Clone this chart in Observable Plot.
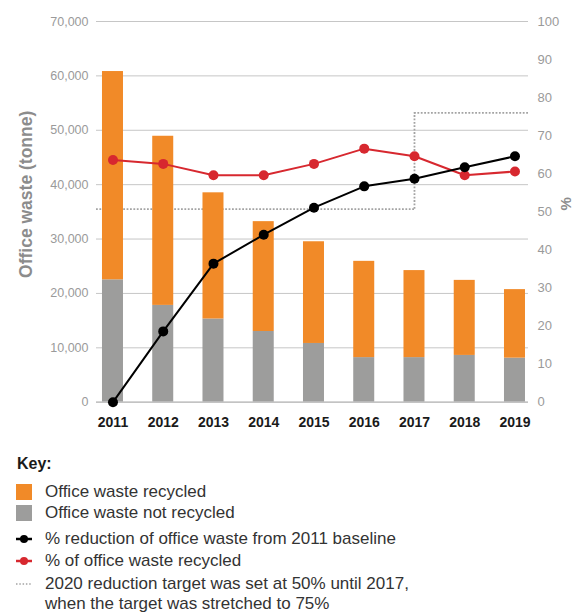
<!DOCTYPE html>
<html>
<head>
<meta charset="utf-8">
<script src="https://cdn.jsdelivr.net/npm/d3@7"></script>
<script src="https://cdn.jsdelivr.net/npm/@observablehq/plot@0.6"></script>
<style>
  html, body { margin: 0; padding: 0; background: #fff; }
  body { font-family: "Liberation Sans", Arial, sans-serif; }
  #wrap { position: relative; width: 582px; height: 612px; overflow: hidden; }
  #chart { position: absolute; left: 0; top: 0; }
  .key-title { position: absolute; left: 17px; top: 453px; font-size: 16px; font-weight: bold; color: #1a1a1a; line-height: 22px; }
  .row { position: absolute; left: 0; height: 22px; line-height: 22px; font-size: 17px; color: #333; white-space: nowrap; }
  .row .sw { position: absolute; left: 16px; top: 3px; width: 16px; height: 16px; }
  .row svg { position: absolute; left: 14px; top: 0; }
  .row .txt { position: absolute; left: 45px; top: 0; }
</style>
</head>
<body>
<div id="wrap">
  <div id="chart"></div>
  <div class="key-title">Key:</div>
  <div id="key"></div>
</div>
<script>
// ---- data ----
const years = [2011, 2012, 2013, 2014, 2015, 2016, 2017, 2018, 2019];
const wasteRecycled    = [38300, 31100, 23200, 20200, 18700, 17700, 16000, 13800, 12600]; // tonnes
const wasteNotRecycled = [22500, 17800, 15300, 13000, 10800, 8200, 8200, 8600, 8100];    // tonnes
const pctReduction = [0, 18.6, 36.4, 44.0, 51.1, 56.7, 58.7, 61.7, 64.6];
const pctRecycled  = [63.6, 62.6, 59.6, 59.6, 62.6, 66.6, 64.6, 59.6, 60.6];
const targetYears  = [2017];          // year the target was stretched
const targetBefore = [50.7];          // % target until 2017
const targetAfter  = [76];            // % target after 2017
const leftTicks  = [0, 10000, 20000, 30000, 40000, 50000, 60000, 70000];
const rightTicks = [0, 10, 20, 30, 40, 50, 60, 70, 80, 90, 100];
const yTitle = "Office waste (tonne)";
const rightTitle = "%";
const keyLabels = [
  "Office waste recycled",
  "Office waste not recycled",
  "% reduction of office waste from 2011 baseline",
  "% of office waste recycled",
  "2020 reduction target was set at 50% until 2017,",
  "when the target was stretched to 75%"
];

// ---- styles ----
const ORANGE = "#f18a28", GREY = "#9d9d9c", RED = "#d7282f", BLACK = "#000000";
const DOT_GREY = "#a3a3a3", GRID = "#c6c6c6", TICK_TEXT = "#9a9a9a";
const PCT = 700;           // 100% on the right axis = 70,000 tonnes on the left
const HALF = 0.209;        // half bar width in year units
const X_DOMAIN = [2010.672, 2019.269];

const rows = years.map((year, i) => ({
  year,
  notRecycled: wasteNotRecycled[i],
  total: wasteNotRecycled[i] + wasteRecycled[i],
  reduction: pctReduction[i] * PCT,
  recycledPct: pctRecycled[i] * PCT
}));
const tBefore = targetYears.map((x, i) => ({x1: X_DOMAIN[0], x2: x, y: targetBefore[i] * PCT}));
const tStep = targetYears.map((x, i) => ({x, y1: targetBefore[i] * PCT, y2: targetAfter[i] * PCT}));
const tAfter = targetYears.map((x, i) => ({x1: x, x2: X_DOMAIN[1], y: targetAfter[i] * PCT}));

const dotted = {stroke: DOT_GREY, strokeWidth: 1.8, strokeDasharray: "1.8,1.6"};

const chart = Plot.plot({
  width: 582,
  height: 440,
  marginTop: 21,
  marginBottom: 38.3,
  marginLeft: 96,
  marginRight: 54,
  style: {fontFamily: "'Liberation Sans', Arial, sans-serif", fontSize: "13px", background: "#fff", overflow: "visible"},
  x: {type: "linear", domain: X_DOMAIN},
  y: {domain: [0, 70000]},
  marks: [
    Plot.gridY(leftTicks, {stroke: GRID, strokeOpacity: 1, strokeWidth: 1}),
    Plot.ruleY(tBefore, {y: "y", x1: "x1", x2: "x2", ...dotted}),
    Plot.ruleX(tStep, {x: "x", y1: "y1", y2: "y2", ...dotted}),
    Plot.ruleY(tAfter, {y: "y", x1: "x1", x2: "x2", ...dotted}),
    Plot.rectY(rows, {x1: d => d.year - HALF, x2: d => d.year + HALF, y1: 0, y2: "notRecycled", fill: GREY}),
    Plot.rectY(rows, {x1: d => d.year - HALF, x2: d => d.year + HALF, y1: "notRecycled", y2: "total", fill: ORANGE}),
    Plot.ruleY([0], {stroke: "#bdbdbd", strokeWidth: 1.2}),
    Plot.line(rows, {x: "year", y: "recycledPct", stroke: RED, strokeWidth: 2}),
    Plot.dot(rows, {x: "year", y: "recycledPct", fill: RED, r: 5}),
    Plot.line(rows, {x: "year", y: "reduction", stroke: BLACK, strokeWidth: 2}),
    Plot.dot(rows, {x: "year", y: "reduction", fill: BLACK, r: 5}),
    Plot.axisY(leftTicks, {anchor: "left", tickSize: 0, tickPadding: 8, tickFormat: d3.format(","), fill: TICK_TEXT, fontSize: 12.5, label: null}),
    Plot.axisY(rightTicks.map(v => v * PCT), {anchor: "right", tickSize: 0, tickPadding: 9, tickFormat: d => String(Math.round(d / PCT)), fill: TICK_TEXT, fontSize: 13, label: null}),
    Plot.axisX(years, {anchor: "bottom", tickSize: 0, tickPadding: 15, tickFormat: d => String(d), fontSize: 14, fontWeight: "bold", fill: "#1a1a1a", label: null}),
    Plot.text([yTitle], {frameAnchor: "left", textAnchor: "middle", dx: -70, dy: -17.5, rotate: -90, fontSize: 17.5, fontWeight: "bold", fill: "#8c8c8c"}),
    Plot.text([rightTitle], {frameAnchor: "right", textAnchor: "middle", dx: 38, dy: -8, rotate: -90, fontSize: 15, fontWeight: "bold", fill: "#8c8c8c"})
  ]
});
document.getElementById("chart").appendChild(chart);

// ---- key ----
const key = document.getElementById("key");
const centers = [491.7, 513.3, 539.3, 560.7, 583.5, 603.5];
const symbols = [
  `<div class="sw" style="background:${ORANGE}"></div>`,
  `<div class="sw" style="background:${GREY}"></div>`,
  `<svg width="20" height="22"><line x1="2" x2="18" y1="11" y2="11" stroke="${BLACK}" stroke-width="2.5"/><circle cx="10" cy="11" r="4" fill="${BLACK}"/></svg>`,
  `<svg width="20" height="22"><line x1="2" x2="18" y1="11" y2="11" stroke="${RED}" stroke-width="2.5"/><circle cx="10" cy="11" r="4" fill="${RED}"/></svg>`,
  `<svg width="20" height="22"><line x1="2" x2="18" y1="11" y2="11" stroke="${DOT_GREY}" stroke-width="1.5" stroke-dasharray="1.5,1.8"/></svg>`,
  ``
];
keyLabels.forEach((label, i) => {
  const r = document.createElement("div");
  r.className = "row";
  r.style.top = (centers[i] - 11) + "px";
  r.innerHTML = symbols[i] + `<span class="txt">${label}</span>`;
  key.appendChild(r);
});
</script>
</body>
</html>
